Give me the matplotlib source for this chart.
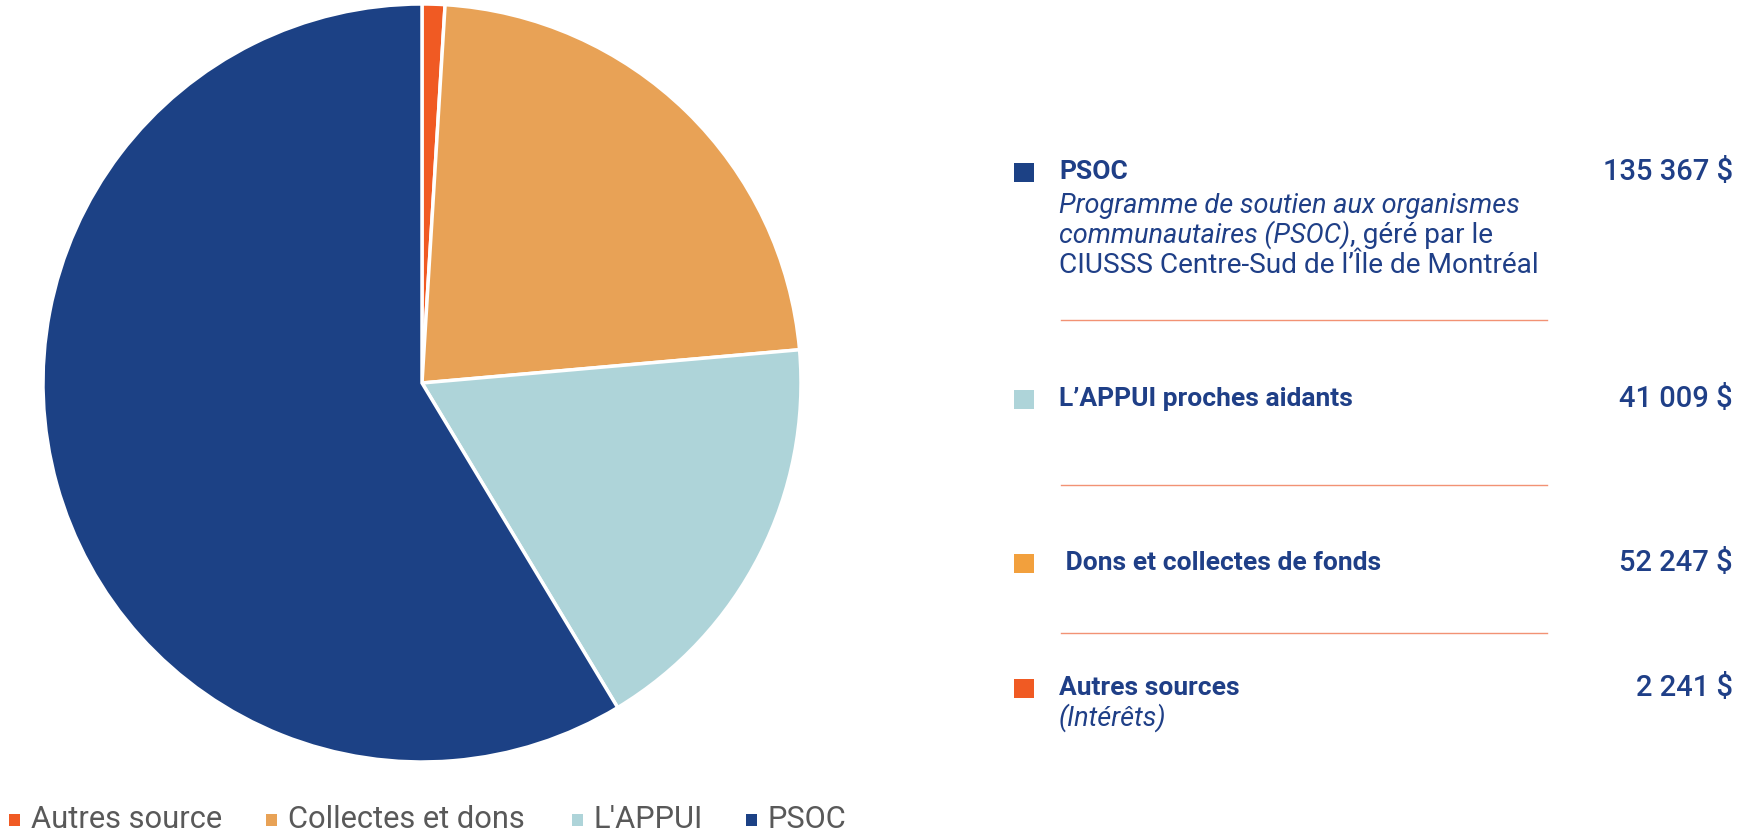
import matplotlib
matplotlib.use("Agg")
from matplotlib import pyplot as plt
from matplotlib.patches import Rectangle
from matplotlib.lines import Line2D

plt.rcParams["font.family"] = ["Roboto", "DejaVu Sans"]

# pie data (clockwise from 12 o'clock)
pie_labels = ["Autres source", "Collectes et dons", "L'APPUI", "PSOC"]
pie_values = [2241, 52247, 41009, 135367]
pie_colors = ["#F05A23", "#E8A256", "#AED4D9", "#1C4185"]

# right-hand panel
panel_titles = ["PSOC", "L\u2019APPUI proches aidants", " Dons et collectes de fonds", "Autres sources"]
panel_amounts = ["135 367 $", "41 009 $", "52 247 $", "2 241 $"]
panel_colors = ["#1C4185", "#AED4D9", "#F2A03D", "#F05A23"]

W, H = 1739, 833
navy = "#1F3F87"
grey = "#595959"
line_col = "#F29274"


def fx(x):
    return x / W


def fy(y):
    return 1 - y / H


fig = plt.figure(figsize=(W / 100, H / 100), dpi=100)

# pie
cx, cy, r = 422, 383, 379
ax = fig.add_axes([fx(cx - r), fy(cy + r), 2 * r / W, 2 * r / H])
ax.pie(
    pie_values,
    colors=pie_colors,
    startangle=90,
    counterclock=False,
    wedgeprops=dict(edgecolor="white", linewidth=2.5),
)
ax.set_xlim(-1, 1)
ax.set_ylim(-1, 1)
ax.set_aspect("auto")
ax.axis("off")

# bottom legend
leg_x = [9, 266, 572, 746]
leg_y = 820
for x, lab, c in zip(leg_x, pie_labels, pie_colors):
    fig.patches.append(
        Rectangle((fx(x), fy(leg_y + 6)), 11 / W, 12 / H, transform=fig.transFigure,
                  facecolor=c, edgecolor="none")
    )
    fig.text(fx(x + 22), fy(leg_y), lab, fontsize=22.2, color=grey, va="center", ha="left")

# right panel
row_y = [172, 399, 563, 688]
sq_x, txt_x, val_x = 1014, 1059, 1733
fs = 19
fs_it = 19.5
fs_reg = 20.2
for y, title, amt, c in zip(row_y, panel_titles, panel_amounts, panel_colors):
    fig.patches.append(
        Rectangle((fx(sq_x), fy(y + 10)), 20 / W, 19 / H, transform=fig.transFigure,
                  facecolor=c, edgecolor="none")
    )
    fig.text(fx(txt_x), fy(y), title, fontsize=fs, fontweight="bold", color=navy,
             va="center", ha="left")
    fig.text(fx(val_x), fy(y), amt, fontsize=21, fontweight="medium", color=navy,
             va="center", ha="right")

# PSOC description (mixed italic / regular)
fig.text(fx(txt_x), fy(213), "Programme de soutien aux organismes", fontsize=fs_it,
         style="italic", color=navy, va="baseline")
t2 = fig.text(fx(txt_x), fy(243), "communautaires (PSOC)", fontsize=fs_it,
              style="italic", color=navy, va="baseline")
ax.annotate(", g\u00e9r\u00e9 par le", xy=(1, fy(243)), xycoords=(t2, fig.transFigure),
            fontsize=fs_reg, color=navy, va="baseline", ha="left", annotation_clip=False)
fig.text(fx(txt_x), fy(273), "CIUSSS Centre-Sud de l\u2019\u00cele de Montr\u00e9al",
         fontsize=fs_reg, color=navy, va="baseline")
fig.text(fx(txt_x), fy(726), "(Int\u00e9r\u00eats)", fontsize=fs_it, style="italic",
         color=navy, va="baseline")

# separators
for y in [320, 485, 633]:
    fig.add_artist(Line2D([fx(1061), fx(1547)], [fy(y), fy(y)],
                          transform=fig.transFigure, color=line_col, lw=1))

fig.savefig("out.png", dpi=100)
